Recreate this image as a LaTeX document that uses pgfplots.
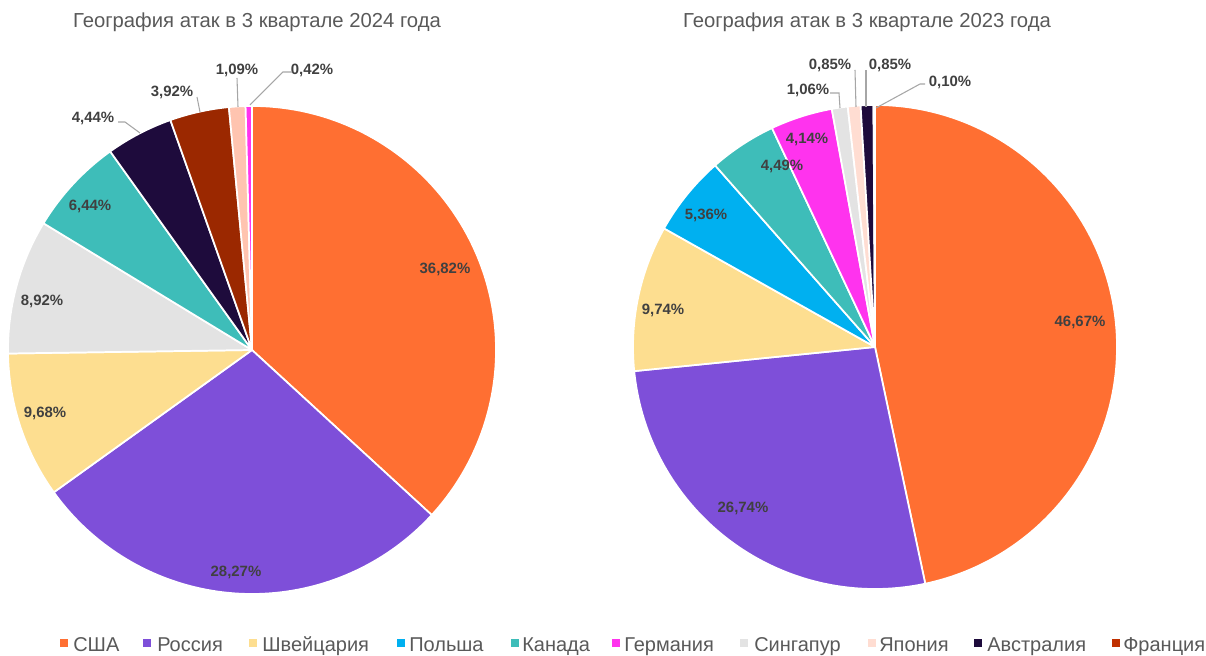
\documentclass[border=0pt]{standalone}
\usepackage{pgfplots}
\pgfplotsset{compat=1.18}
\usepackage{pgfplotstable}
\usepackage{fontspec}
\setmainfont{Liberation Sans}

\definecolor{cUSA}{HTML}{FF6F32}
\definecolor{cRUS}{HTML}{7E4FD9}
\definecolor{cSUI}{HTML}{FDDE90}
\definecolor{cPOL}{HTML}{00B0F0}
\definecolor{cCAN}{HTML}{3EBDB9}
\definecolor{cGER}{HTML}{FF33EE}
\definecolor{cSGP}{HTML}{E3E3E3}
\definecolor{cJPN}{HTML}{FFDDD2}
\definecolor{cJPNb}{HTML}{FFC4B0}
\definecolor{cAUS}{HTML}{1E0B3C}
\definecolor{cFRA}{HTML}{C03000}
\definecolor{cFRAb}{HTML}{9B2800}
\definecolor{txt}{HTML}{404040}
\definecolor{ttl}{HTML}{595959}
\definecolor{lead}{HTML}{A6A6A6}

% 2024: value, colour, label, label position (px, from top-left)
\pgfplotstableread{
value col   lab   lx   ly
36.82 cUSA  36,82 445  269
28.27 cRUS  28,27 236  572
9.68  cSUI  9,68  45   413
8.92  cSGP  8,92  42   301
6.44  cCAN  6,44  90   206
4.44  cAUS  4,44  93   118
3.92  cFRAb 3,92  172  92
1.09  cJPNb 1,09  237  70
0.42  cGER  0,42  312  70
}\tblA

% 2023
\pgfplotstableread{
value col   lab   lx   ly
46.67 cUSA  46,67 1080 322
26.74 cRUS  26,74 743  508
9.74  cSUI  9,74  663  310
5.36  cPOL  5,36  706  215
4.49  cCAN  4,49  782  166
4.14  cGER  4,14  807  139
1.06  cSGP  1,06  808  90
0.85  cJPN  0,85  830  65
0.85  cAUS  0,85  890  65
0.10  cFRA  0,10  950  82
}\tblB

\newcommand\pie[4]{% table, cx, cy (upward), radius (px)
  \pgfplotstablegetrowsof{#1}\pgfmathtruncatemacro\N{\pgfplotsretval-1}%
  \gdef\acc{90}%
  \foreach \i in {0,...,\N}{%
    \pgfplotstablegetelem{\i}{value}\of#1\pgfmathsetmacro\v{\pgfplotsretval}%
    \pgfplotstablegetelem{\i}{col}\of#1\edef\c{\pgfplotsretval}%
    \pgfmathsetmacro\b{\acc-3.6*\v}%
    \filldraw[fill=\c, draw=white, line width=1.3pt, line join=round]
      (axis cs:#2,#3) -- (axis cs:{#2+#4*cos(\acc)},{#3+#4*sin(\acc)})
      arc[start angle=\acc, end angle=\b, radius=#4*0.75pt] -- cycle;
    \xdef\acc{\b}%
  }%
  \foreach \i in {0,...,\N}{%
    \pgfplotstablegetelem{\i}{lab}\of#1\edef\lab{\pgfplotsretval}%
    \pgfplotstablegetelem{\i}{lx}\of#1\edef\lx{\pgfplotsretval}%
    \pgfplotstablegetelem{\i}{ly}\of#1\edef\ly{\pgfplotsretval}%
    \node[font=\bfseries\fontsize{11.2}{13}\selectfont, text=txt, inner sep=0pt]
      at (axis cs:\lx,{656-\ly}) {\lab\%};
  }%
}

\newcommand\legitem[4]{% marker x, text x, colour, name
  \fill[#3] (axis cs:{#1},8.5) rectangle (axis cs:{#1+8},16.5);
  \node[anchor=base west, inner sep=0pt, text=ttl, font=\fontsize{15}{17}\selectfont]
    at (axis cs:#2,4.8) {#4};
}

\begin{document}
\begin{tikzpicture}
\begin{axis}[name=ax, hide axis, scale only axis, width=904.5pt, height=492pt,
  xmin=0, xmax=1206, ymin=0, ymax=656, clip=false]
\addplot[draw=none, mark=none] coordinates {(0,0) (1206,656)};
\pgfplotsextra{%
  \pie{\tblA}{252}{306}{244}%
  \pie{\tblB}{875}{309}{242}%
}
% leader lines, 2024
\draw[lead, line width=0.8pt] (axis cs:118,534) -- (axis cs:125,534) -- (axis cs:140,523);
\draw[lead, line width=0.8pt] (axis cs:197,559) -- (axis cs:200,544);
\draw[lead, line width=0.8pt] (axis cs:237,578) -- (axis cs:238,549);
\draw[lead, line width=0.8pt] (axis cs:292,584) -- (axis cs:283,584) -- (axis cs:250,551);
% leader lines, 2023
\draw[lead, line width=0.8pt] (axis cs:830,563) -- (axis cs:839,563) -- (axis cs:840,548);
\draw[lead, line width=0.8pt] (axis cs:855,586) -- (axis cs:856,549);
\draw[lead, line width=0.8pt] (axis cs:866,586) -- (axis cs:866,549);
\draw[lead, line width=0.8pt] (axis cs:925,572) -- (axis cs:920,572) -- (axis cs:876,548);
% titles
\node[anchor=base, inner sep=0pt, text=ttl, font=\fontsize{15.2}{18}\selectfont]
  at (axis cs:257,628) {География атак в 3 квартале 2024 года};
\node[anchor=base, inner sep=0pt, text=ttl, font=\fontsize{15.2}{18}\selectfont]
  at (axis cs:867,628) {География атак в 3 квартале 2023 года};
% legend
\legitem{60}{73}{cUSA}{США}
\legitem{143}{157}{cRUS}{Россия}
\legitem{249}{262}{cSUI}{Швейцария}
\legitem{397}{409}{cPOL}{Польша}
\legitem{511}{522}{cCAN}{Канада}
\legitem{612}{624}{cGER}{Германия}
\legitem{740}{754}{cSGP}{Сингапур}
\legitem{868}{879}{cJPN}{Япония}
\legitem{974}{987}{cAUS}{Австралия}
\legitem{1112}{1123}{cFRA}{Франция}
\end{axis}
\pgfresetboundingbox
\useasboundingbox (ax.south west) rectangle (ax.north east);
\end{tikzpicture}
\end{document}
